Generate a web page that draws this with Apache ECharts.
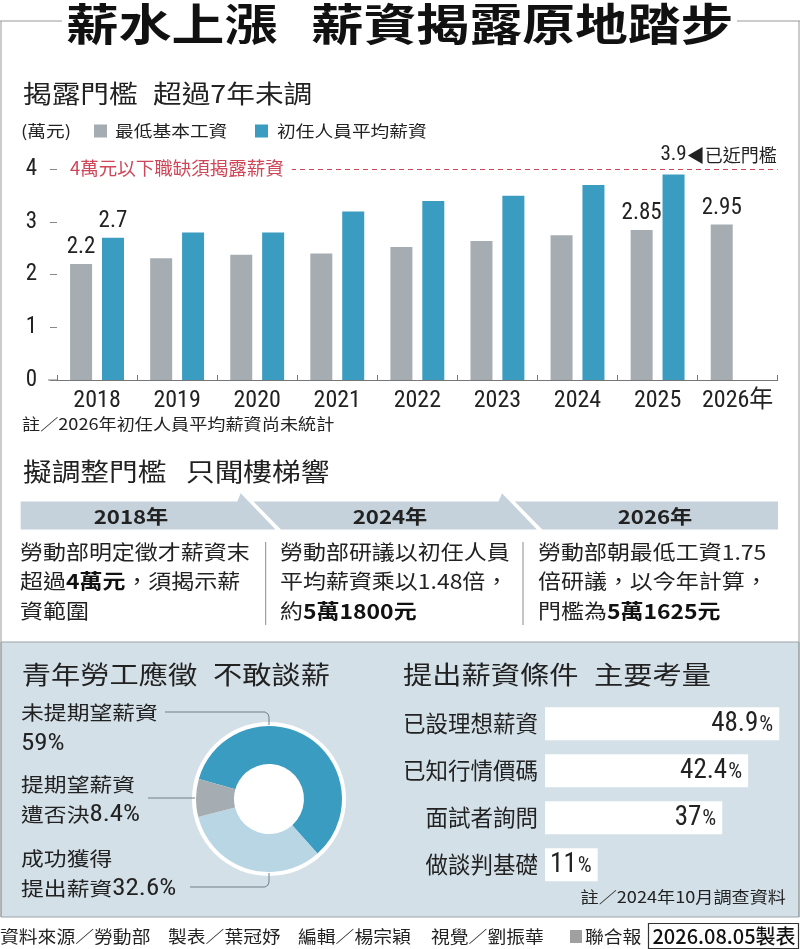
<!DOCTYPE html>
<html><head><meta charset="utf-8">
<script src="https://cdn.jsdelivr.net/npm/echarts@6/dist/echarts.min.js"></script>
<style>html,body{margin:0;padding:0;background:#fff}#c{width:800px;height:949px}</style>
</head><body><div id="c"></div>
<script>
// ---------- data ----------
const yearCats = ['2018','2019','2020','2021','2022','2023','2024','2025','2026年'];
const minWage = [2.2, 2.31, 2.38, 2.4, 2.525, 2.64, 2.75, 2.85, 2.95];
const starterPay = [2.7, 2.8, 2.8, 3.2, 3.4, 3.5, 3.7, 3.9, null];
const minWageLabeled = [0, 7, 8];
const starterLabeled = [0];
const starterNoteIdx = 7;
const yMin = 0, yMax = 4, yStep = 1;
const threshold = 4;
const thresholdText = '4萬元以下職缺須揭露薪資';
const nearText = '◀已近門檻';
const seriesNames = ['最低基本工資', '初任人員平均薪資'];

const tlYears = ['2018年', '2024年', '2026年'];
const tlTexts = [
  '勞動部明定徵才薪資末\n超過**4萬元**，須揭示薪\n資範圍',
  '勞動部研議以初任人員\n平均薪資乘以1.48倍，\n約**5萬1800元**',
  '勞動部朝最低工資1.75\n倍研議，以今年計算，\n門檻為**5萬1625元**'
];

const pieNames = ['未提期望薪資', '成功獲得提出薪資', '提期望薪資遭否決'];
const pieValues = [59, 32.6, 8.4];
const pieLine1 = ['未提期望薪資', '成功獲得', '提期望薪資'];
const pieLine2Prefix = ['', '提出薪資', '遭否決'];

const factorNames = ['已設理想薪資', '已知行情價碼', '面試者詢問', '做談判基礎'];
const factorValues = [48.9, 42.4, 37, 11];

// ---------- style ----------
const CJK = "'Noto Sans CJK TC','Noto Sans CJK SC',sans-serif";
const NUM = "'Liberation Sans Narrow','Roboto Condensed','DejaVu Sans Condensed','Noto Sans CJK TC',sans-serif";
const SX = 1.17;
const INK = '#222';
const GRAY = '#a6adb2';
const BLUE = '#3a9cc0';
const LIGHTBLUE = '#b9d6e5';
const RED = '#cf4658';
const PANEL = '#d4e0e8';
const BAND = '#c5d2db';

function T(x, y, text, size, o) {
  o = o || {};
  return {
    type: 'text', x: x, y: y, scaleX: o.sx == null ? SX : o.sx, z: 100,
    style: {
      text: text, fontSize: size, fontFamily: o.ff || CJK, fontWeight: o.fw || 'normal',
      fill: o.c || INK, align: o.a || 'left', verticalAlign: o.va || 'middle', rich: o.rich
    }
  };
}
function L(points, o) {
  o = o || {};
  return { type: 'polyline', z: o.z == null ? 50 : o.z, shape: { points: points }, style: { stroke: o.c || '#999', lineWidth: o.w || 1, fill: null } };
}

function richBody(src) {
  return src.split('\n').map(function (line) {
    const parts = line.split('**');
    return parts.map(function (p, i) { return p ? '{' + (i % 2 ? 'b' : 'r') + '|' + p + '}' : ''; }).join('');
  }).join('\n');
}

const graphics = [];
// frame
graphics.push(L([[0, 21], [62, 21]]));
graphics.push(L([[737, 21], [800, 21]]));
graphics.push(L([[1, 21], [1, 917]]));
graphics.push(L([[799, 21], [799, 917]]));
graphics.push({ type: 'rect', z: -5, shape: { x: 1, y: 642, width: 798, height: 275 }, style: { fill: PANEL, stroke: '#9aa3a9', lineWidth: 1 } });
// title
graphics.push(T(66, 24, '薪水上漲', 44, { fw: 'bold', c: '#111', sx: 1.2 }));
graphics.push(T(311, 24, '薪資揭露原地踏步', 44, { fw: 'bold', c: '#111', sx: 1.2 }));
// section 1 heading + legend
graphics.push(T(23, 94, '揭露門檻', 24.5));
graphics.push(T(153, 94, '超過7年未調', 24.5));
graphics.push(T(21, 131, '(萬元)', 16));
graphics.push({ type: 'rect', z: 100, shape: { x: 94, y: 124.5, width: 13, height: 13 }, style: { fill: GRAY } });
graphics.push(T(115, 131, seriesNames[0], 16));
graphics.push({ type: 'rect', z: 100, shape: { x: 255, y: 124.5, width: 13, height: 13 }, style: { fill: BLUE } });
graphics.push(T(277, 131, seriesNames[1], 16));
graphics.push(L([[48, 380], [57, 380]], { c: '#777' }));
graphics.push(T(22, 424, '註／2026年初任人員平均薪資尚未統計', 15.5));

// section 2 timeline
graphics.push(T(23, 471.5, '擬調整門檻', 24.5));
graphics.push(T(186, 471.5, '只聞樓梯響', 24.5));
const tOff = 261.3;
graphics.push({ type: 'polygon', z: 10, shape: { points: [[20.7, 501.5], [237.3, 501.5], [240.7, 493.3], [275.5, 529.5], [20.7, 529.5]] }, style: { fill: BAND } });
graphics.push({ type: 'polygon', z: 10, shape: { points: [[253.5, 501.5], [237.3 + tOff, 501.5], [240.7 + tOff, 493.3], [275.5 + tOff, 529.5], [281, 529.5]] }, style: { fill: BAND } });
graphics.push({ type: 'polygon', z: 10, shape: { points: [[253.5 + tOff, 501.5], [778, 501.5], [778, 529.5], [281 + tOff, 529.5]] }, style: { fill: BAND } });
const tlHeadX = [131, 390, 655];
const tlBodyX = [20, 280, 538];
tlYears.forEach(function (y, i) {
  graphics.push(T(tlHeadX[i], 516.5, y, 19, { fw: 'bold', a: 'center', c: '#222' }));
  graphics.push(T(tlBodyX[i], 537, richBody(tlTexts[i]), 20.5, {
    va: 'top', sx: 1.12,
    rich: {
      r: { fontSize: 20.5, fontFamily: CJK, fill: INK, lineHeight: 29.5 },
      b: { fontSize: 20.5, fontFamily: CJK, fontWeight: 'bold', fill: '#111', lineHeight: 29.5 }
    }
  }));
});
graphics.push(L([[265.7, 542], [265.7, 625]], { c: '#8a8a8a' }));
graphics.push(L([[523, 542], [523, 625]], { c: '#8a8a8a' }));

// section 3
graphics.push(T(21.7, 674, '青年勞工應徵', 25));
graphics.push(T(213, 674, '不敢談薪', 25));
graphics.push(T(403, 674, '提出薪資條件', 25));
graphics.push(T(594, 674, '主要考量', 25));
const pieY1 = [713, 859, 785];
const pieY2 = [744, 889, 815];
pieValues.forEach(function (v, i) {
  graphics.push(T(21, pieY1[i], pieLine1[i], 19.5));
  const pre = pieLine2Prefix[i] ? '{c|' + pieLine2Prefix[i] + '}' : '';
  graphics.push(T(21, pieY2[i], pre + '{n|' + v + '%}', 19.5, {
    rich: {
      c: { fontSize: 19.5, fontFamily: CJK, fill: INK },
      n: { fontSize: 23, fontFamily: NUM, fill: INK }
    }
  }));
});
const leader = '#6f7f8a';
graphics.push(L([[165, 712], [265, 712], [268, 714], [269, 717], [269, 725]], { c: leader, z: 60 }));
graphics.push(L([[148, 798], [195, 798]], { c: leader, z: 60 }));
graphics.push(L([[190, 887], [265, 887], [268, 885], [269, 882], [269, 873]], { c: leader, z: 60 }));
graphics.push(T(786, 897.5, '註／2024年10月調查資料', 15.5, { a: 'right' }));

// footer
graphics.push(T(0, 937, '資料來源／勞動部', 16.5, { sx: 1.14 }));
graphics.push(T(168, 937, '製表／葉冠妤', 16.5, { sx: 1.14 }));
graphics.push(T(298, 937, '編輯／楊宗穎', 16.5, { sx: 1.14 }));
graphics.push(T(431, 937, '視覺／劉振華', 16.5, { sx: 1.14 }));
graphics.push({ type: 'rect', z: 100, shape: { x: 570, y: 930, width: 12, height: 13 }, style: { fill: '#a0a0a0' } });
graphics.push(T(585, 937, '聯合報', 16.5, { sx: 1.14 }));
graphics.push({ type: 'rect', z: 100, shape: { x: 648.5, y: 923.5, width: 150, height: 25 }, style: { fill: '#fff', stroke: '#333', lineWidth: 1.2 } });
graphics.push(T(724, 936.5, '2026.08.05製表', 20, { a: 'center', sx: 1, fw: 500, c: '#111' }));

// ---------- chart ----------
const chart = echarts.init(document.getElementById('c'), null, { renderer: 'canvas' });

const numLabel = { show: true, position: 'top', distance: 5, fontFamily: NUM, fontSize: 23, color: INK };

const option = {
  animation: false,
  backgroundColor: '#fff',
  textStyle: { fontFamily: CJK },
  graphic: { elements: graphics },
  grid: [
    { left: 57, right: 22.3, top: 169.3, bottom: 569 },
    { left: 545, top: 700.3, width: 239.5, height: 188 }
  ],
  xAxis: [
    {
      gridIndex: 0, type: 'category', data: yearCats,
      axisLine: { lineStyle: { color: '#777', width: 1 } },
      axisTick: { show: true, inside: true, length: 5, lineStyle: { color: '#777' } },
      axisLabel: { interval: 0, fontFamily: NUM, fontSize: 24, color: INK, margin: 9 }
    },
    { gridIndex: 1, type: 'value', min: 0, max: 50, show: false }
  ],
  yAxis: [
    {
      gridIndex: 0, type: 'value', min: yMin, max: yMax, interval: yStep,
      splitLine: { show: false }, axisLine: { show: false },
      axisTick: { show: true, length: 7, lineStyle: { color: '#888' } },
      axisLabel: { fontFamily: NUM, fontSize: 23, color: INK, margin: 20 }
    },
    {
      gridIndex: 1, type: 'category', data: factorNames, inverse: true,
      axisLine: { show: false }, axisTick: { show: false }, splitLine: { show: false },
      axisLabel: { fontFamily: CJK, fontSize: 22.5, color: INK, margin: 7 }
    }
  ],
  series: [
    {
      type: 'bar', name: seriesNames[0], xAxisIndex: 0, yAxisIndex: 0,
      barWidth: 22, barGap: '45%', itemStyle: { color: GRAY },
      data: minWage.map(function (v, i) {
        return { value: v, label: minWageLabeled.indexOf(i) >= 0 ? numLabel : { show: false } };
      })
    },
    {
      type: 'bar', name: seriesNames[1], xAxisIndex: 0, yAxisIndex: 0,
      barWidth: 22, barGap: '45%', itemStyle: { color: BLUE },
      data: starterPay.map(function (v, i) {
        if (i === starterNoteIdx) {
          return {
            value: v, label: {
              show: true, position: 'top', distance: 5, offset: [45, -4],
              formatter: '{n|' + v + '}{t|' + nearText + '}',
              rich: { n: { fontFamily: NUM, fontSize: 21, color: INK }, t: { fontFamily: CJK, fontSize: 18, color: INK } }
            }
          };
        }
        return { value: v, label: starterLabeled.indexOf(i) >= 0 ? numLabel : { show: false } };
      }),
      markLine: {
        silent: true, symbol: 'none',
        lineStyle: { color: RED, type: [5, 4], width: 1.2 },
        label: {
          show: true, position: 'insideStartTop', distance: [0, 0], offset: [0, 11],
          formatter: thresholdText, fontFamily: CJK, fontSize: 18.5, color: RED,
          backgroundColor: '#fff', padding: [3, 8, 3, 13]
        },
        data: [{ yAxis: threshold }]
      }
    },
    {
      type: 'bar', xAxisIndex: 1, yAxisIndex: 1, barWidth: 33,
      itemStyle: { color: '#fff' },
      label: {
        show: true, position: 'insideRight', distance: 6,
        formatter: function (p) { return '{n|' + p.value + '}{p|%}'; },
        rich: { n: { fontFamily: NUM, fontSize: 27, color: INK }, p: { fontFamily: NUM, fontSize: 22, color: INK, padding: [3, 0, 0, 1] } }
      },
      data: factorValues
    },
    {
      type: 'pie', silent: true, center: [269, 799], radius: [0, 77], z: 1,
      label: { show: false }, labelLine: { show: false },
      itemStyle: { color: '#fff' }, data: [1]
    },
    {
      type: 'pie', center: [269, 799], radius: [35, 73], startAngle: 164, clockwise: true, z: 3,
      label: { show: false }, labelLine: { show: false },
      data: pieValues.map(function (v, i) {
        return { name: pieNames[i], value: v, itemStyle: { color: [BLUE, LIGHTBLUE, GRAY][i] } };
      })
    }
  ]
};
chart.setOption(option);
</script>
</body></html>
